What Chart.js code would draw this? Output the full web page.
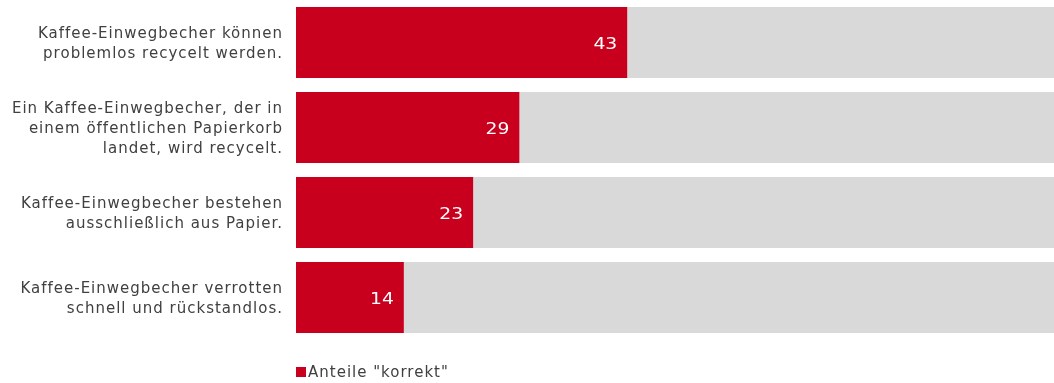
<!DOCTYPE html>
<html>
<head>
<meta charset="utf-8">
<script src="https://cdn.jsdelivr.net/npm/chart.js@4/dist/chart.umd.min.js"></script>
<style>
  html, body { margin: 0; padding: 0; background: #fff; }
  #wrap { position: relative; width: 1054px; height: 383px; }
  #legend { position: absolute; left: 296px; top: 363px; font: 15px "DejaVu Sans", Verdana, sans-serif; letter-spacing: 1px; color: #404040; display: flex; align-items: center; white-space: nowrap; }
  #legend .box { width: 10px; height: 10px; background: #C8001E; margin-right: 2px; }
</style>
</head>
<body>
<div id="wrap">
  <canvas id="c" width="1054" height="383"></canvas>
  <div id="legend"><span class="box"></span><span>Anteile "korrekt"</span></div>
</div>
<script>
const categories = [
  ["Kaffee-Einwegbecher können", "problemlos recycelt werden."],
  ["Ein Kaffee-Einwegbecher, der in", "einem öffentlichen Papierkorb", "landet, wird recycelt."],
  ["Kaffee-Einwegbecher bestehen", "ausschließlich aus Papier."],
  ["Kaffee-Einwegbecher verrotten", "schnell und rückstandlos."]
];
const korrekt = [43, 29, 23, 14];
const total = 100;
const rest = korrekt.map(v => total - v);

const FONT = '"DejaVu Sans", Verdana, sans-serif';

// wider letter spacing and a small downward shift for the category labels
const labelStyle = {
  id: 'labelStyle',
  beforeDraw(chart) {
    chart.ctx.letterSpacing = '1px';
    chart.ctx.setTransform(1, 0, 0, 1, 0, 2);
  },
  beforeDatasetsDraw(chart) {
    chart.ctx.setTransform(1, 0, 0, 1, 0, 0);
  }
};

const valueLabels = {
  id: 'valueLabels',
  afterDatasetsDraw(chart) {
    const ctx = chart.ctx;
    const meta = chart.getDatasetMeta(0);
    meta.data.forEach((bar, i) => {
      ctx.save();
      ctx.letterSpacing = '0px';
      ctx.font = '15px ' + FONT;
      ctx.fillStyle = '#ffffff';
      ctx.textAlign = 'right';
      ctx.textBaseline = 'middle';
      ctx.translate(bar.x - 10, bar.y + 3);
      ctx.scale(1.25, 1);
      ctx.fillText(String(korrekt[i]), 0, 0);
      ctx.restore();
    });
  }
};

new Chart(document.getElementById('c'), {
  type: 'bar',
  data: {
    labels: categories,
    datasets: [
      { label: 'Anteile "korrekt"', data: korrekt, backgroundColor: '#C8001E', borderWidth: 0, barPercentage: 0.835, categoryPercentage: 1 },
      { label: 'Rest', data: rest, backgroundColor: '#D9D9D9', borderWidth: 0, barPercentage: 0.835, categoryPercentage: 1 }
    ]
  },
  options: {
    indexAxis: 'y',
    responsive: false,
    animation: false,
    layout: { padding: { top: 0, right: 0, bottom: 43, left: 0 } },
    plugins: { legend: { display: false }, tooltip: { enabled: false } },
    scales: {
      x: { stacked: true, min: 0, max: 98.4, display: false },
      y: {
        stacked: true,
        grid: { display: false, drawTicks: false },
        border: { display: false },
        ticks: { color: '#404040', font: { family: FONT, size: 15, lineHeight: 1.33 }, padding: 13 },
        afterFit(scale) { scale.width = 296; scale.paddingTop = 0; scale.paddingBottom = 0; }
      }
    }
  },
  plugins: [labelStyle, valueLabels]
});
</script>
</body>
</html>
